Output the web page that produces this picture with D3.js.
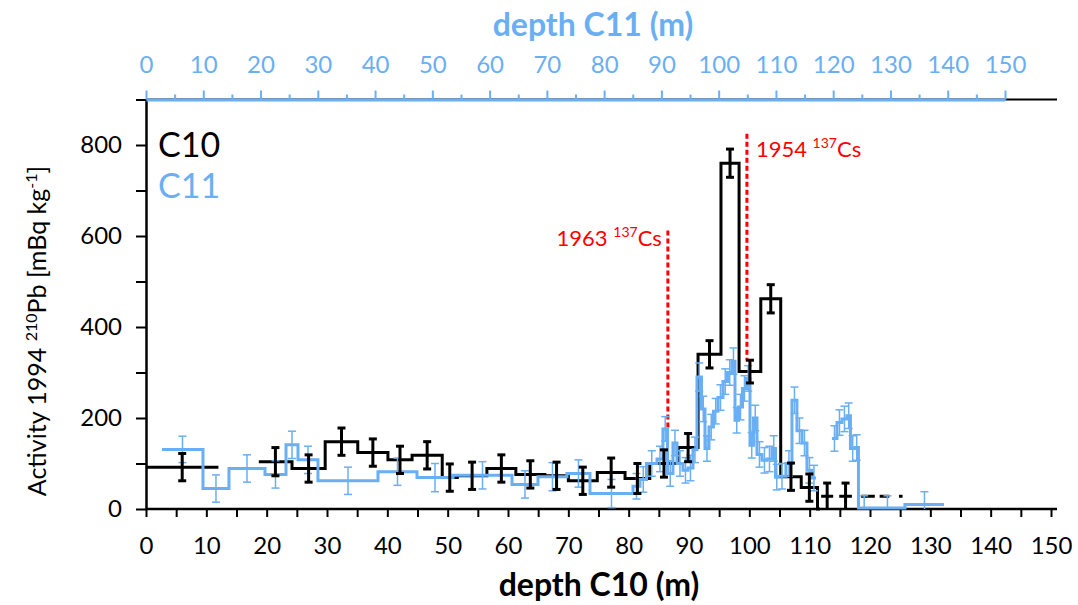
<!DOCTYPE html>
<html><head><meta charset="utf-8">
<script src="https://cdn.jsdelivr.net/npm/d3@7"></script>
<style>
body{margin:0;background:#fff}
svg{display:block}
text{font-family:Lato,"Open Sans",sans-serif}
</style>
</head><body>
<svg id="chart" width="1078" height="605"></svg>
<script>
// ---------- DATA ----------
// Core C10 (bottom axis, depth in m)
const c10Top    = [0, 18.7, 24.2, 29.7, 35.1, 40.1, 44.1, 49.1, 51.6, 56.5, 61.3, 66.1, 70.0, 74.8, 79.4, 83.5, 88.2, 91.5, 95.3, 98.3, 101.9, 105.2, 108.6, 111.3, 111.9, 114.9];
const c10Bottom = [12, 24.2, 29.7, 35.1, 40.1, 44.1, 49.1, 51.6, 56.5, 61.3, 66.1, 70.0, 74.8, 79.4, 83.5, 88.2, 91.5, 95.3, 98.3, 101.9, 105.2, 108.6, 111.3, 111.7, 113.9, 117.0];
const c10Value  = [92, 104, 89, 148, 124, 108, 118, 69, 73, 89, 76, 73, 62, 80, 67, 100, 135, 340, 760, 302, 462, 71, 47, 0, 28, 28];
const c10Error  = [30, 31, 30, 30, 30, 30, 30, 30, 30, 30, 30, 30, 30, 32, 33, 30, 31, 30, 31, 25, 31, 30, 30, 0, 29, 29];
// C10 estimated (dashed) segments
const c10EstTop    = [118.5, 121.6, 124.8];
const c10EstBottom = [120.8, 123.2, 125.4];
const c10EstValue  = [28, 28, 28];

// Core C11 (top axis, depth in m)
const c11Top = [2.79, 9.95, 14.49, 20.78, 24.45, 26.54, 30.03, 40.51, 47.32, 53.61, 63.91, 68.45, 73.51, 77.53, 85.04, 86.26, 87.40, 89.23, 90.27, 91.06, 92.02, 92.72, 93.77, 94.64, 95.51, 96.21, 97.00, 97.61, 98.31, 99.09, 99.88, 100.75, 101.54, 102.32, 102.85, 103.46, 104.16, 104.85, 105.47, 106.08, 106.69, 107.56, 108.43, 109.31, 109.92, 110.36, 111.75, 112.80, 113.67, 114.55, 115.42, 116.29, 119.78, 120.66, 121.53, 122.40, 123.01, 123.80, 124.41, 126.42, 132.53];
const c11Bottom = [9.95, 14.49, 20.78, 24.45, 26.54, 30.03, 40.51, 47.32, 53.61, 63.91, 68.45, 73.51, 77.53, 85.04, 86.26, 87.40, 89.23, 90.27, 91.06, 92.02, 92.72, 93.77, 94.64, 95.51, 96.21, 97.00, 97.61, 98.31, 99.09, 99.88, 100.75, 101.54, 102.32, 102.85, 103.46, 104.16, 104.85, 105.47, 106.08, 106.69, 107.56, 108.43, 109.31, 109.92, 110.36, 111.75, 112.80, 113.67, 114.55, 115.42, 116.29, 116.99, 120.66, 121.53, 122.40, 123.01, 123.80, 124.41, 126.42, 132.53, 139.34];
const c11Value = [131, 45, 89, 76, 141, 108, 62, 82, 69, 74, 54, 71, 78, 34, 50, 65, 100, 110, 176, 78, 145, 100, 85, 90, 130, 290, 220, 133, 180, 215, 245, 280, 300, 325, 195, 224, 265, 287, 140, 200, 120, 107, 110, 133, 70, 72, 100, 239, 172, 145, 85, 68, 155, 190, 198, 205, 133, 135, 2, 2, 10];
const c11Error = [29, 30, 30, 30, 30, 30, 30, 30, 31, 30, 30, 31, 30, 31, 28, 28, 28, 28, 27, 28, 28, 28, 28, 28, 28, 31, 28, 28, 28, 28, 28, 28, 28, 29, 28, 28, 28, 28, 28, 28, 28, 28, 28, 28, 28, 28, 28, 29, 28, 28, 28, 28, 28, 28, 28, 28, 28, 28, 27, 27, 28];

// 137Cs markers (depth on C10 axis, activity span of the dashed line)
const csLabels   = ["1963", "1954"];
const csDepth    = [86.5, 99.6];
const csLineTop  = [612, 825];
const csLineBot  = [179, 326];

// axis ticks
const depthTicks = d3.range(0, 151, 5);
const actTicks = d3.range(0, 901, 100);

// ---------- CHART ----------
const BLUE = "#6aaff3";
const RED = "#ff0000";
const svg = d3.select("#chart");
const x10 = d3.scaleLinear().domain([0, 150]).range([146, 1051]);
const x11 = d3.scaleLinear().domain([0, 150]).range([146, 1005]);
const y = d3.scaleLinear().domain([0, 900]).range([509, 99.5]);

// frame top line (black), right part visible
svg.append("line").attr("x1", 146).attr("x2", 1057).attr("y1", y(900)).attr("y2", y(900))
  .attr("stroke", "#000").attr("stroke-width", 2);

// bottom axis
const gB = svg.append("g").attr("transform", `translate(0,${y(0)})`)
  .call(d3.axisBottom(x10).tickValues(depthTicks).tickSize(8).tickSizeOuter(0).tickPadding(20)
    .tickFormat(d => d % 10 === 0 ? d : ""));
gB.select(".domain").remove();
gB.append("line").attr("x1", 146).attr("x2", 1057).attr("stroke", "#000").attr("stroke-width", 2.5);
gB.selectAll(".tick line").attr("stroke-width", 2);
gB.selectAll(".tick text").attr("font-size", 24).attr("fill", "#000").attr("font-family", "Lato");

// left axis
const gL = svg.append("g").attr("transform", `translate(146,0)`)
  .call(d3.axisLeft(y).tickValues(actTicks).tickSize(10).tickSizeOuter(0).tickPadding(14)
    .tickFormat(d => (d % 200 === 0 && d <= 800) ? d : ""));
gL.select(".domain").attr("stroke-width", 2.5);
gL.selectAll(".tick line").attr("stroke-width", 2);
gL.selectAll(".tick text").attr("font-size", 24).attr("fill", "#000").attr("font-family", "Lato");

// top axis (C11)
const gT = svg.append("g").attr("transform", `translate(0,${y(900)})`)
  .call(d3.axisTop(x11).tickValues(depthTicks).tickSize(9).tickSizeOuter(0).tickPadding(18)
    .tickFormat(d => d % 10 === 0 ? d : ""));
gT.select(".domain").attr("stroke", BLUE).attr("stroke-width", 3);
gT.selectAll(".tick line").attr("stroke", BLUE).attr("stroke-width", 2)
  .attr("y2", d => d % 10 === 0 ? -9 : -5);
gT.selectAll(".tick text").attr("font-size", 24).attr("fill", BLUE).attr("font-family", "Lato");

// axis titles
svg.append("text").attr("x", 599).attr("y", 596).attr("text-anchor", "middle")
  .attr("font-size", 32).attr("font-weight", "bold").attr("fill", "#000").text("depth C10 (m)");
svg.append("text").attr("x", 593).attr("y", 36).attr("text-anchor", "middle")
  .attr("font-size", 32).attr("font-weight", "bold").attr("fill", BLUE).text("depth C11 (m)");

const yt = svg.append("text").attr("transform", "translate(46,331) rotate(-90)")
  .attr("text-anchor", "middle").attr("font-size", 25).attr("fill", "#000");
yt.append("tspan").text("Activity 1994 ");
yt.append("tspan").attr("font-size", 16).attr("dy", -9).text("210");
yt.append("tspan").attr("dy", 9).text("Pb [mBq kg");
yt.append("tspan").attr("font-size", 16).attr("dy", -9).text("-1");
yt.append("tspan").attr("dy", 9).text("]");

// legend
svg.append("text").attr("x", 158).attr("y", 157).attr("font-size", 34).attr("fill", "#000").text("C10");
svg.append("text").attr("x", 158).attr("y", 198).attr("font-size", 34).attr("fill", BLUE).text("C11");

// step-path builder
function stepPaths(tops, bots, vals, xs) {
  const paths = [];
  let cur = null;
  for (let i = 0; i < tops.length; i++) {
    const contiguous = i > 0 && Math.abs(tops[i] - bots[i - 1]) < 0.05;
    if (!contiguous) {
      if (cur) paths.push(cur);
      cur = `M${xs(tops[i])},${y(vals[i])}`;
    } else {
      cur += `V${y(vals[i])}`;
    }
    cur += `H${xs(bots[i])}`;
  }
  if (cur) paths.push(cur);
  return paths;
}

function errorBars(g, tops, bots, vals, errs, xs, color, sw, cap) {
  for (let i = 0; i < tops.length; i++) {
    if (!errs[i]) continue;
    const xm = xs((tops[i] + bots[i]) / 2);
    const lo = Math.max(0, vals[i] - errs[i]);
    const hi = vals[i] + errs[i];
    g.append("line").attr("x1", xm).attr("x2", xm).attr("y1", y(lo)).attr("y2", y(hi))
      .attr("stroke", color).attr("stroke-width", sw);
    g.append("line").attr("x1", xm - cap).attr("x2", xm + cap).attr("y1", y(hi)).attr("y2", y(hi))
      .attr("stroke", color).attr("stroke-width", sw);
    if (vals[i] - errs[i] > 0)
      g.append("line").attr("x1", xm - cap).attr("x2", xm + cap).attr("y1", y(lo)).attr("y2", y(lo))
        .attr("stroke", color).attr("stroke-width", sw);
  }
}

const gData = svg.append("g");
// C10 steps
stepPaths(c10Top, c10Bottom, c10Value, x10).forEach(p =>
  gData.append("path").attr("d", p).attr("fill", "none").attr("stroke", "#000").attr("stroke-width", 3));
// C10 dashed estimated segments
c10EstTop.forEach((t, i) =>
  gData.append("line").attr("x1", x10(t)).attr("x2", x10(c10EstBottom[i]))
    .attr("y1", y(c10EstValue[i])).attr("y2", y(c10EstValue[i]))
    .attr("stroke", "#000").attr("stroke-width", 3));

// red 137Cs markers
csLabels.forEach((lab, i) => {
  gData.append("line").attr("x1", x10(csDepth[i])).attr("x2", x10(csDepth[i]))
    .attr("y1", y(csLineTop[i])).attr("y2", y(csLineBot[i]))
    .attr("stroke", RED).attr("stroke-width", 3).attr("stroke-dasharray", "5,3");
});

// C11 steps
stepPaths(c11Top, c11Bottom, c11Value, x11).forEach(p =>
  gData.append("path").attr("d", p).attr("fill", "none").attr("stroke", BLUE).attr("stroke-width", 3));
errorBars(gData, c11Top, c11Bottom, c11Value, c11Error, x11, BLUE, 1.5, 4);
errorBars(gData, c10Top, c10Bottom, c10Value, c10Error, x10, "#000", 3, 4);

// red labels
const l1 = svg.append("text").attr("x", x10(csDepth[0]) - 6).attr("y", 246).attr("text-anchor", "end")
  .attr("font-size", 22).attr("fill", RED);
l1.append("tspan").text(csLabels[0] + " ");
l1.append("tspan").attr("font-size", 14).attr("dy", -9).text("137");
l1.append("tspan").attr("dy", 9).text("Cs");
const l2 = svg.append("text").attr("x", x10(csDepth[1]) + 9).attr("y", 157).attr("text-anchor", "start")
  .attr("font-size", 22).attr("fill", RED);
l2.append("tspan").text(csLabels[1] + " ");
l2.append("tspan").attr("font-size", 14).attr("dy", -9).text("137");
l2.append("tspan").attr("dy", 9).text("Cs");
</script>
</body></html>
